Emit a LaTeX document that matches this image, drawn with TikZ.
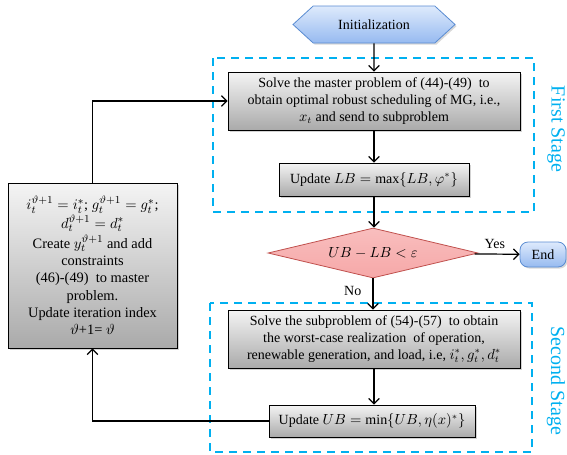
\documentclass[tikz,border=0pt]{standalone}
\usepackage{fontspec}
\setmainfont{Liberation Serif}
\usetikzlibrary{shapes.geometric,shapes.symbols,shadows,arrows.meta}
\definecolor{stagecyan}{RGB}{0,176,240}
\definecolor{boxtop}{RGB}{244,244,244}
\definecolor{boxbot}{RGB}{170,170,170}
\definecolor{bluetop}{RGB}{222,234,252}
\definecolor{bluebot}{RGB}{150,186,240}
\definecolor{blueline}{RGB}{90,140,210}
\definecolor{pinkfill}{RGB}{246,168,168}
\definecolor{redline}{RGB}{192,80,77}
\tikzset{
  graybox/.style={draw=black, line width=0.6pt, top color=boxtop, bottom color=boxbot,
    drop shadow={shadow xshift=1.5pt, shadow yshift=-1.5pt, opacity=0.35},
    align=center, font=\fontsize{10.5}{12.8}\selectfont, inner sep=2pt},
  bluebox/.style={draw=blueline, line width=0.6pt, top color=bluetop, bottom color=bluebot,
    drop shadow={shadow xshift=1.2pt, shadow yshift=-1.2pt, opacity=0.3},
    font=\fontsize{10.5}{12}\selectfont},
  arr/.style={line width=0.9pt, -{Straight Barb[length=4pt,width=8pt]}},
  stageframe/.style={draw=stagecyan, line width=1.5pt, dash pattern=on 6pt off 4.5pt},
  stagelabel/.style={text=stagecyan, font=\fontsize{15}{18}\selectfont, rotate=-90}
}
\begin{document}
\begin{tikzpicture}[x=0.75pt,y=-0.75pt]
\useasboundingbox (0,0) rectangle (567,454);
% stage frames
\draw[stageframe] (213,58) rectangle (534,212);
\draw[stageframe] (210,303) rectangle (532,452);
\node[stagelabel] (fs) at (556,129) {First Stage};
\node[stagelabel] (ss) at (556,381) {Second Stage};
% nodes
\node[bluebox, signal, signal to=west and east, signal pointer angle=85,
  minimum width=121.5pt, minimum height=27.75pt, inner sep=0pt] (init) at (374,24.5) {Initialization};
\node[graybox, minimum width=219pt, minimum height=43.5pt] (master) at (374,101)
  {Solve the master problem of (44)-(49)\ \ to\\ obtain optimal robust scheduling of MG, i.e.,\\ $x_t$ and send to subproblem};
\node[graybox, minimum width=142.5pt, minimum height=24.75pt] (lb) at (374,179.5)
  {Update $LB=\max\{LB,\varphi^{*}\}$};
\node[diamond, draw=redline, line width=0.6pt, top color=pinkfill!75, bottom color=pinkfill,
  aspect=4.2, inner sep=0pt, minimum width=157.5pt, minimum height=37.5pt,
  font=\fontsize{10.5}{12}\selectfont] (dia) at (373,253) {$UB-LB<\varepsilon$};
\node[bluebox, rounded corners=6pt, minimum width=34.5pt, minimum height=18.75pt, inner sep=1pt] (end) at (543,254.5) {End};
\node[graybox, minimum width=219pt, minimum height=43.5pt] (sub) at (374,339)
  {Solve the subproblem of (54)-(57)\ \ to obtain\\ the worst-case realization\ \ of operation,\\ renewable generation, and load, i.e, $i_t^{*}, g_t^{*}, d_t^{*}$};
\node[graybox, minimum width=154.5pt, minimum height=24pt] (ub) at (372,421)
  {Update $UB=\min\{UB,\eta(x)^{*}\}$};
\node[graybox, minimum width=126.75pt, minimum height=123.75pt, font=\fontsize{10.8}{13}\selectfont] (left) at (92.5,265.5)
  {$i_t^{\vartheta+1}=i_t^{*}$; $g_t^{\vartheta+1}=g_t^{*}$;\\[1pt] $d_t^{\vartheta+1}=d_t^{*}$\\[2pt]
   Create $y_t^{\vartheta+1}$ and add\\ constraints\\ (46)-(49)\ \ to master\\ problem.\\
   Update iteration index\\ $\vartheta$+1= $\vartheta$};
% connectors
\draw[arr] (init) -- (master);
\draw[arr] (master) -- (lb);
\draw[arr] (lb.south) -- (lb.south |- dia.north);
\draw[arr] (dia) -- node[above, font=\fontsize{10.5}{12}\selectfont, pos=0.45] {Yes} (end);
\draw[arr] (dia.south) -- node[left=5pt, pos=0.4, font=\fontsize{10.5}{12}\selectfont] {No} (dia.south |- sub.north);
\draw[arr] (sub.south) -- (sub.south |- ub.north);
\draw[arr] (ub.west) -| (left.south);
\draw[arr] (left.north) |- (master.west);
\end{tikzpicture}
\end{document}
